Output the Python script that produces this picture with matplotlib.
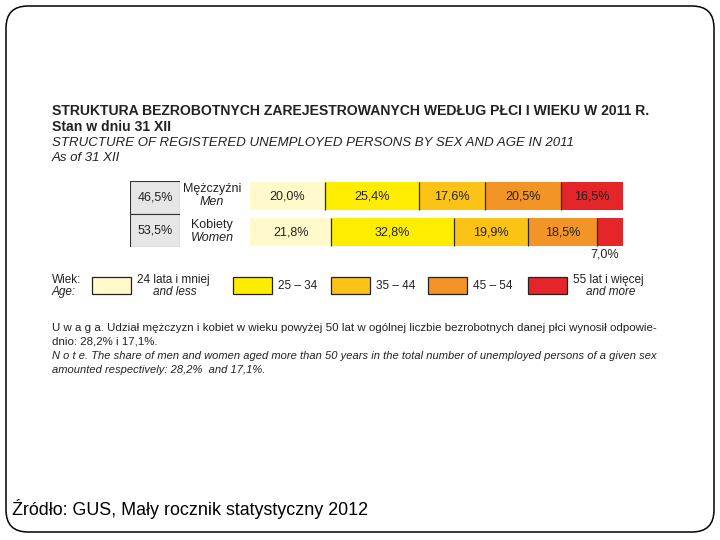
import numpy as np
import matplotlib
matplotlib.use("Agg")
import matplotlib.pyplot as plt
from matplotlib import font_manager
from matplotlib.patches import FancyBboxPatch, Rectangle

# data
groups_pl = ["Mężczyźni", "Kobiety"]
groups_en = ["Men", "Women"]
share = [46.5, 53.5]
age_pl = ["24 lata i mniej", "25 – 34", "35 – 44", "45 – 54", "55 lat i więcej"]
age_en = ["and less", "", "", "", "and more"]
men = [20.0, 25.4, 17.6, 20.5, 16.5]
women = [21.8, 32.8, 19.9, 18.5, 7.0]
colors = ["#fff9cc", "#ffed00", "#fcc317", "#f39426", "#e4262a"]

names = {f.name for f in font_manager.fontManager.ttflist}
base = "Liberation Sans"
narrow = "Liberation Sans Narrow" if "Liberation Sans Narrow" in names else base
plt.rcParams["font.family"] = [base, "DejaVu Sans"]

def pl(v):
    return f"{v:.1f}%".replace(".", ",")

fig = plt.figure(figsize=(7.2, 5.4), dpi=100)
bg = fig.add_axes([0, 0, 1, 1])
bg.set_xlim(0, 720)
bg.set_ylim(540, 0)
bg.axis("off")

# slide frame
bg.add_patch(FancyBboxPatch((6, 6), 708, 526, boxstyle="round,pad=0,rounding_size=22",
                            fc="white", ec="black", lw=1.1))

txt = "#222222"
bg.text(52, 111, "STRUKTURA BEZROBOTNYCH ZAREJESTROWANYCH WEDŁUG PŁCI I WIEKU W 2011 R.",
        fontsize=10.1, fontweight="bold", color=txt, va="center")
bg.text(52, 127, "Stan w dniu 31 XII", fontsize=10.1, fontweight="bold", color=txt, va="center")
bg.text(52, 143, "STRUCTURE OF REGISTERED UNEMPLOYED PERSONS BY SEX AND AGE IN 2011",
        fontsize=9.5, style="italic", color=txt, va="center")
bg.text(52, 158, "As of 31 XII", fontsize=9.5, style="italic", color=txt, va="center")

# share of each sex (grey boxes)
axs = fig.add_axes([130 / 720, 1 - 247 / 540, 50 / 720, 66 / 540])
y = np.arange(len(share))
axs.barh(y, [1] * len(share), height=1.0, color="#e6e6e6", edgecolor="#333333", lw=0.8)
for i, v in enumerate(share):
    axs.text(0.5, i, pl(v), ha="center", va="center", fontsize=9, color=txt)
axs.set_xlim(0, 1)
axs.set_ylim(1.5, -0.5)
axs.axis("off")

for i in range(len(groups_pl)):
    yc = 196 + 36 * i
    bg.text(212, yc - 7, groups_pl[i], ha="center", va="center", fontsize=9, color=txt)
    bg.text(212, yc + 6, groups_en[i], ha="center", va="center", fontsize=9,
            style="italic", color=txt)

# stacked bars
ax = fig.add_axes([250 / 720, 1 - 250 / 540, 373 / 720, 72 / 540])
rows = [men, women]
for r, vals in enumerate(rows):
    left = np.concatenate([[0], np.cumsum(vals)[:-1]])
    ax.barh([r] * len(vals), vals, left=left, height=0.78, color=colors, edgecolor="none")
    ax.vlines(left[1:], r - 0.39, r + 0.39, color="#2a2a2a", lw=0.9)
    for k, (l, v) in enumerate(zip(left, vals)):
        if v < 10:
            ax.text(l + v / 2 - 1.5, r + 0.62, pl(v), ha="center", va="center",
                    fontsize=9, color=txt)
        else:
            ax.text(l + v / 2, r, pl(v), ha="center", va="center", fontsize=9, color=txt)
ax.set_xlim(0, 100)
ax.set_ylim(1.5, -0.5)
ax.axis("off")

# legend
bg.text(52, 280, "Wiek:", fontsize=8.5, color=txt, va="center")
bg.text(52, 292, "Age:", fontsize=8.5, style="italic", color=txt, va="center")
box_x = [92, 233, 331, 428, 528]
for k in range(len(age_pl)):
    bg.add_patch(Rectangle((box_x[k], 277), 39, 17, fc=colors[k], ec="#222222", lw=0.9))
    tx = box_x[k] + 45
    if age_en[k]:
        bg.text(tx, 280, age_pl[k], fontsize=8.5, color=txt, va="center")
        bg.text(tx + 38, 292, age_en[k], fontsize=8.5, style="italic",
                color=txt, va="center", ha="center")
    else:
        bg.text(tx, 286, age_pl[k], fontsize=8.5, color=txt, va="center")

# note
nfs = 10.0 if narrow != base else 8.25
bg.text(52, 328, "U w a g a. Udział mężczyzn i kobiet w wieku powyżej 50 lat w ogólnej liczbie "
        "bezrobotnych danej płci wynosił odpowie-", family=narrow, fontsize=nfs, color=txt,
        va="center")
bg.text(52, 341, "dnio: 28,2% i 17,1%.", family=narrow, fontsize=nfs, color=txt, va="center")
bg.text(52, 356, "N o t e. The share of men and women aged more than 50 years in the total number "
        "of unemployed persons of a given sex", family=narrow, fontsize=nfs - 0.2,
        style="italic", color=txt, va="center")
bg.text(52, 370, "amounted respectively: 28,2%  and 17,1%.", family=narrow, fontsize=nfs - 0.2,
        style="italic", color=txt, va="center")

bg.text(12, 509, "Źródło: GUS, Mały rocznik statystyczny 2012", fontsize=12.9, color="black",
        va="center")

fig.savefig("out.png", dpi=100)
